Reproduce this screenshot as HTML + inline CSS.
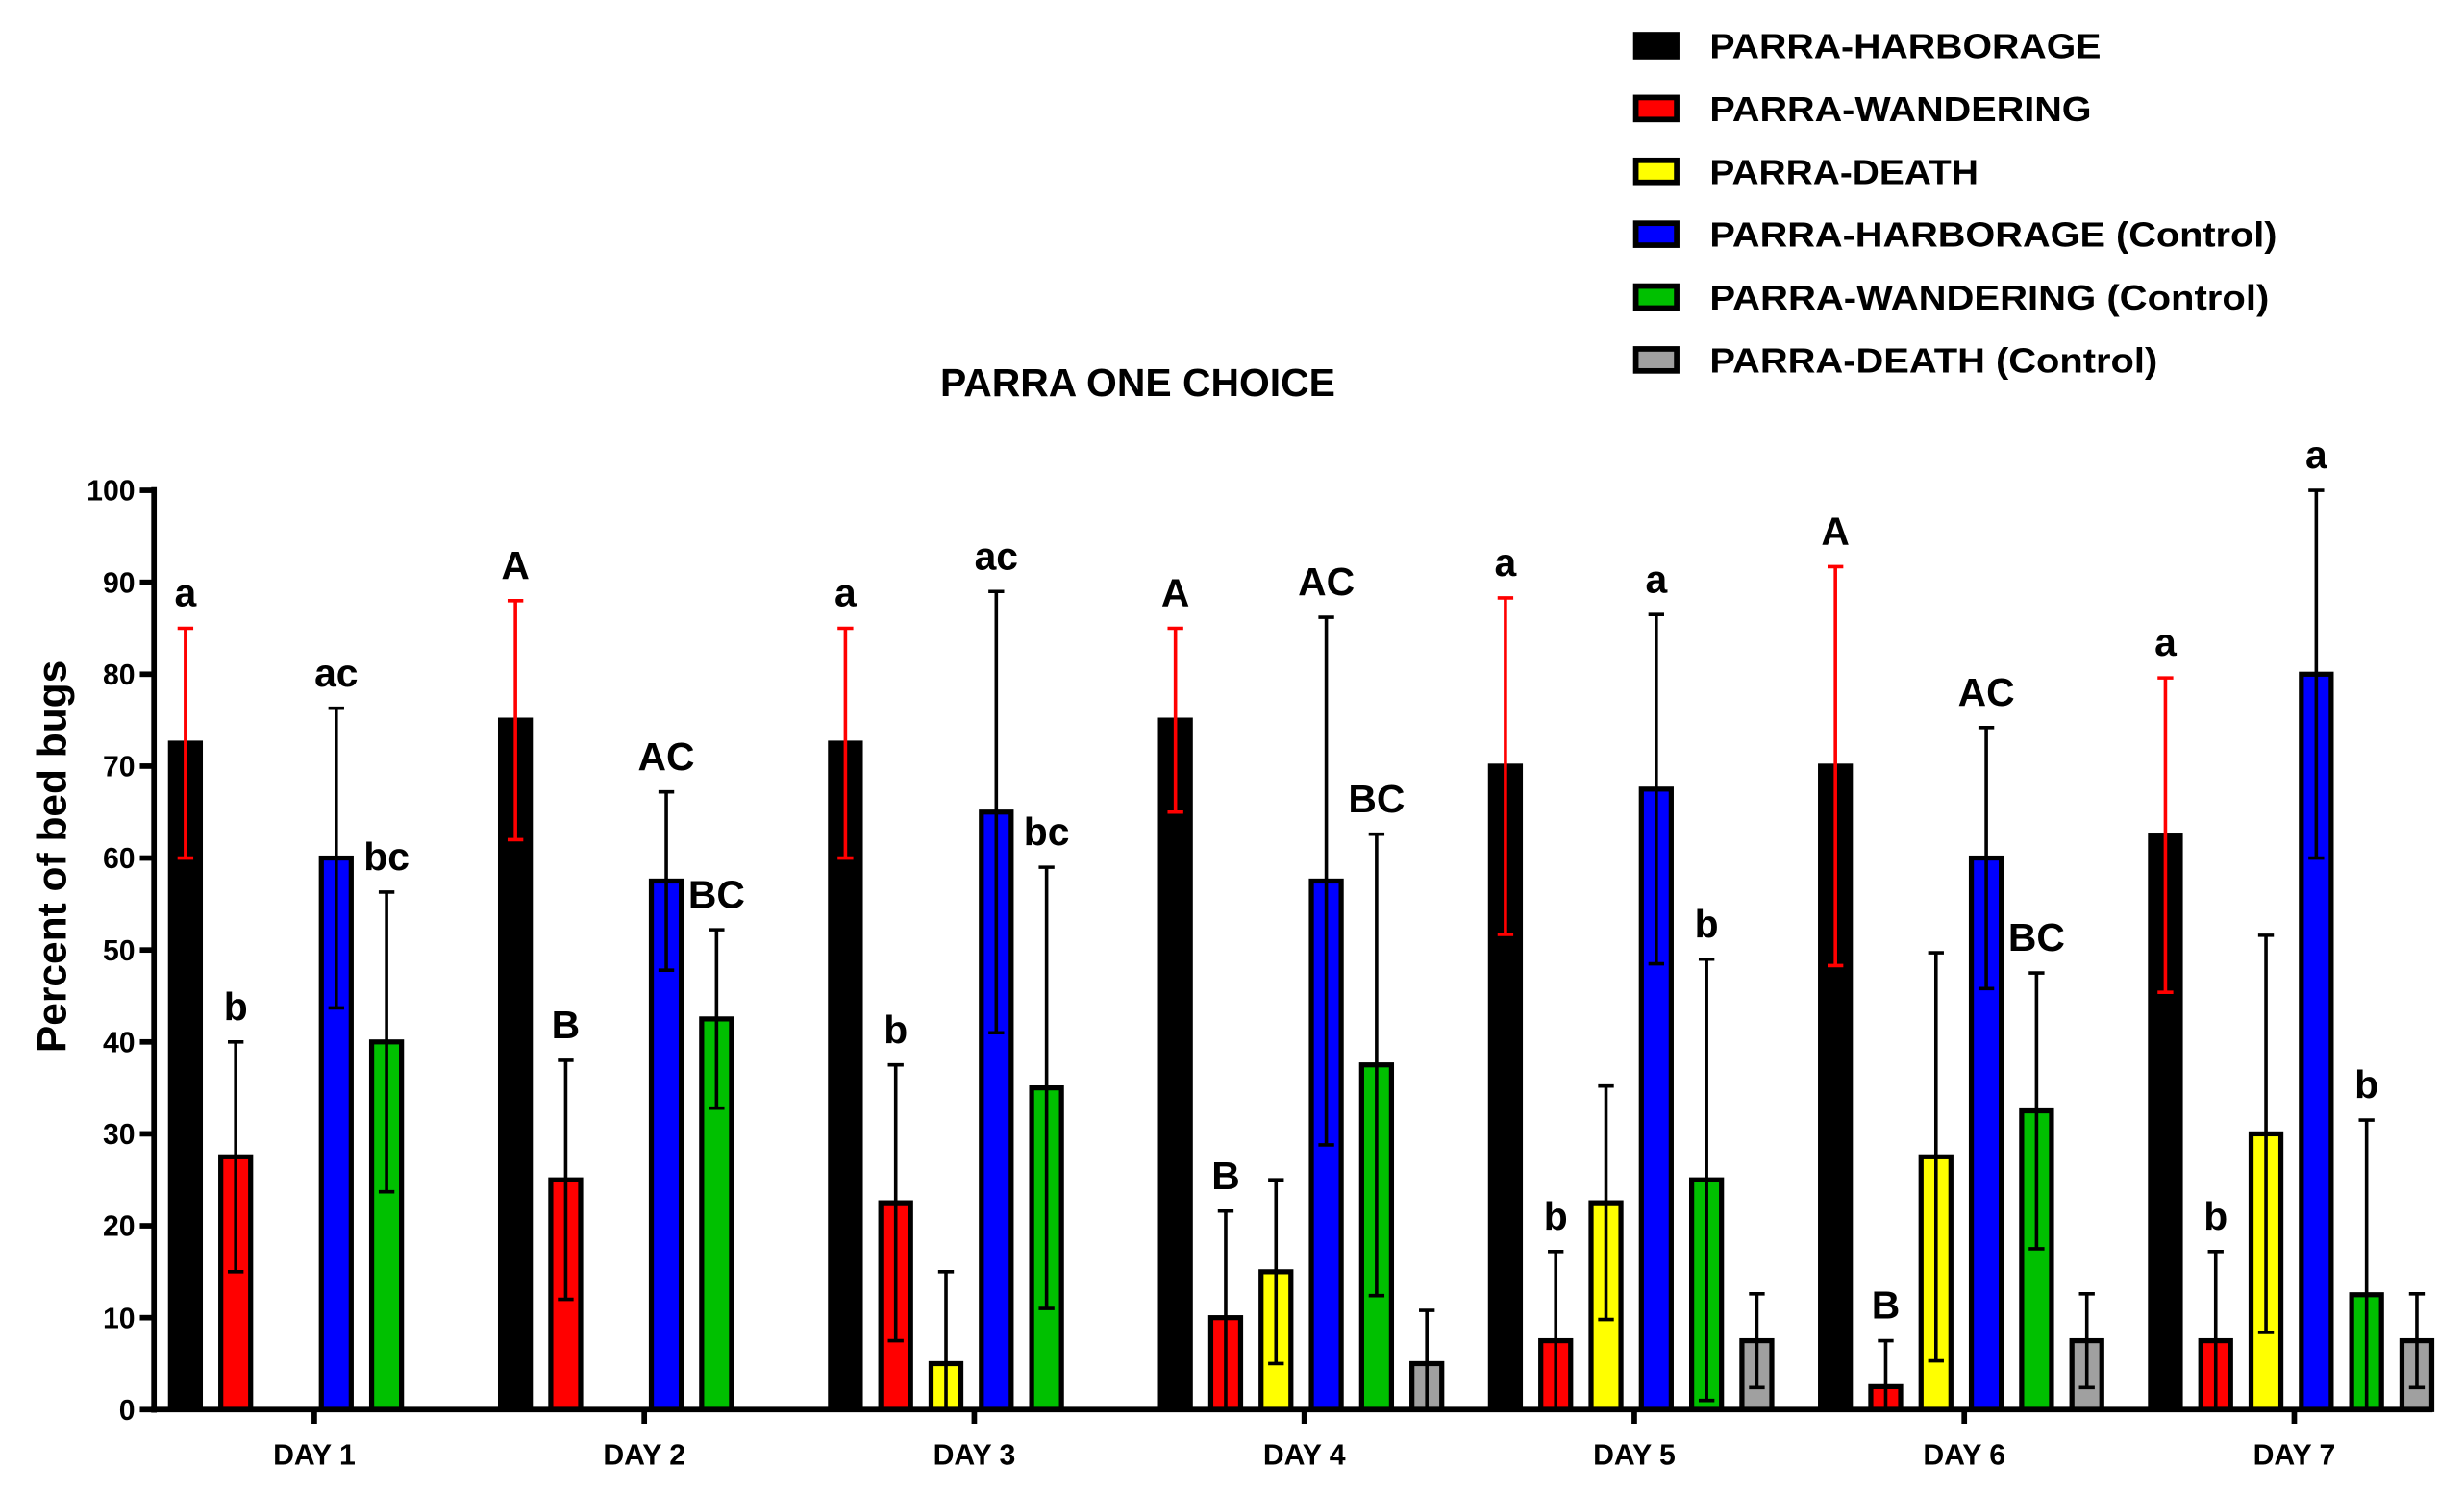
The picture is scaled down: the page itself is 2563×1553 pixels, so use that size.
<!DOCTYPE html>
<html><head><meta charset="utf-8"><style>html,body{margin:0;padding:0;background:#fff}svg{display:block}text{font-family:"Liberation Sans",Arial,sans-serif}</style></head>
<body>
<svg id="chart" width="2563" height="1553" viewBox="0 0 1568 950" xmlns="http://www.w3.org/2000/svg">
<rect width="1568" height="950" fill="#fff"/>
<text x="724" y="252" text-anchor="middle" font-size="25" font-weight="bold">PARRA ONE CHOICE</text>
<text transform="translate(42,545) rotate(-90)" text-anchor="middle" font-size="26" font-weight="bold">Percent of bed bugs</text>
<g id="legend"></g>
<g id="plot"></g>
</svg>
<script>
const days = ["DAY 1","DAY 2","DAY 3","DAY 4","DAY 5","DAY 6","DAY 7"];
const seriesNames = ["PARRA-HARBORAGE","PARRA-WANDERING","PARRA-DEATH","PARRA-HARBORAGE (Control)","PARRA-WANDERING (Control)","PARRA-DEATH (Control)"];
const seriesColors = ["#000000","#ff0000","#ffff00","#0000ff","#00c000","#a0a0a0"];
const legendWidths = [249,243,171,361,356,285];
const harborage = [72.5,75,72.5,75,70,70,62.5];
const harborageErr = [12.5,13,12.5,10,18.3,21.7,17.1];
const wandering = [27.5,25,22.5,10,7.5,2.5,7.5];
const wanderingErr = [12.5,13,15,11.6,9.7,5,9.7];
const death = [0,0,5,15,22.5,27.5,30];
const deathErr = [0,0,10,10,12.7,22.2,21.6];
const harborageCtl = [60,57.5,65,57.5,67.5,60,80];
const harborageCtlErr = [16.3,9.7,24,28.7,19,14.2,20];
const wanderingCtl = [40,42.5,35,37.5,25,32.5,12.5];
const wanderingCtlErr = [16.3,9.7,24,25.1,24,15,19];
const deathCtl = [0,0,0,5,7.5,7.5,7.5];
const deathCtlErr = [0,0,0,5.8,5.1,5.1,5.1];
const yTicks = [0,10,20,30,40,50,60,70,80,90,100];
const letters = [
 ["a","b","","ac","bc",""],
 ["A","B","","AC","BC",""],
 ["a","b","","ac","bc",""],
 ["A","B","","AC","BC",""],
 ["a","b","","a","b",""],
 ["A","B","","AC","BC",""],
 ["a","b","","a","b",""]
];
const values=[harborage,wandering,death,harborageCtl,wanderingCtl,deathCtl];
const errs=[harborageErr,wanderingErr,deathErr,harborageCtlErr,wanderingCtlErr,deathCtlErr];
const NS="http://www.w3.org/2000/svg";
const plot=document.getElementById('plot');
const X0=98,X1=1548,Y0=897,Y100=312;
function y(v){return Y0-(Y0-Y100)*v/100;}
function dayX(i){return 200+210*i;}
function barX(d,s){return dayX(d)+(s-2.5)*32-2;}
function mk(tag,attrs,parent){const e=document.createElementNS(NS,tag);for(const k in attrs)e.setAttribute(k,attrs[k]);(parent||plot).appendChild(e);return e;}
for(let d=0;d<days.length;d++){
 for(let s=0;s<6;s++){
  const v=values[s][d],e=errs[s][d],cx=barX(d,s);
  if(v>0){
   const r=mk('rect',{x:cx-9.5,y:y(v),width:19,height:Y0-y(v),fill:seriesColors[s],stroke:'#000','stroke-width':3.2});
   
   
  }
  if(e>0){
   const col=s===0?'#ff0000':'#000';
   const lo=Math.max(0,v-e),hi=v+e;
   const g=mk('g',{stroke:col,'stroke-width':2.2});
   
   
   mk('line',{x1:cx,x2:cx,y1:y(lo),y2:y(hi)},g);
   mk('line',{x1:cx-5,x2:cx+5,y1:y(hi),y2:y(hi)},g);
   if(lo>0)mk('line',{x1:cx-5,x2:cx+5,y1:y(lo),y2:y(lo)},g);
  }
  const L=letters[d][s];
  if(L){
   const t=mk('text',{x:cx,y:y(v+e)-14,'text-anchor':'middle','font-size':25,'font-weight':'bold'});
   t.textContent=L;
   
   
  }
 }
}
const ax=mk('g',{stroke:'#000','stroke-width':3.5});


mk('line',{x1:X0,x2:X0,y1:Y100-2,y2:Y0+2},ax);
mk('line',{x1:X0-2,x2:X1,y1:Y0,y2:Y0},ax);
for(const t of yTicks){
 mk('line',{x1:X0-9,x2:X0,y1:y(t),y2:y(t)},ax);
 const tx=mk('text',{x:X0-12,y:y(t)+6.5,'text-anchor':'end','font-size':18.5,'font-weight':'bold'});
 tx.textContent=t;
 
 
}
for(let d=0;d<days.length;d++){
 mk('line',{x1:dayX(d),x2:dayX(d),y1:Y0,y2:Y0+9},ax);
 const tx=mk('text',{x:dayX(d),y:932,'text-anchor':'middle','font-size':18.5,'font-weight':'bold'});
 tx.textContent=days[d];
 
 
}
const lg=document.getElementById('legend');
for(let s=0;s<6;s++){
 const cy=29+40*s;
 const r=mk('rect',{x:1041,y:cy-7,width:26,height:14,fill:seriesColors[s],stroke:'#000','stroke-width':3.5},lg);
 
 
 const t=mk('text',{x:1088,y:cy+8,'font-size':22,'font-weight':'bold',textLength:legendWidths[s],lengthAdjust:'spacingAndGlyphs'},lg);
 t.textContent=seriesNames[s];
 
 
}
</script>
</body></html>
